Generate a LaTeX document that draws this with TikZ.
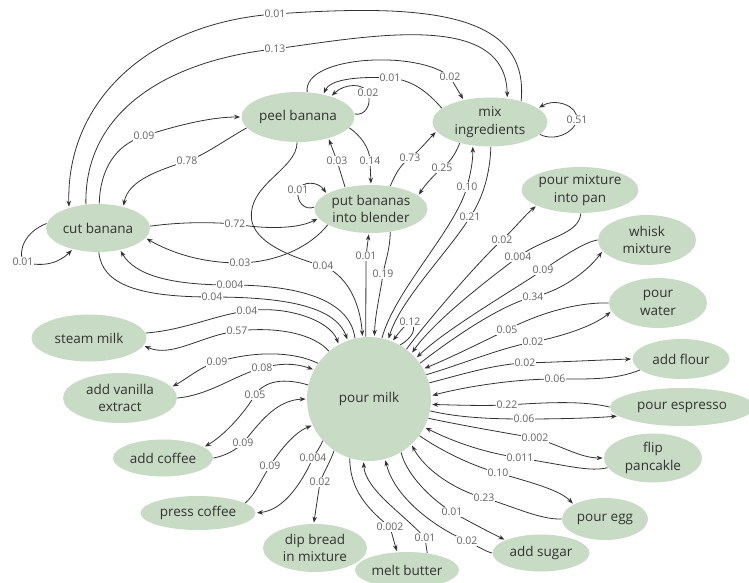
\documentclass[tikz,border=0pt]{standalone}
\usepackage{fontspec}
\setmainfont{Open Sans}
\usetikzlibrary{shapes.geometric,arrows.meta}
\definecolor{sage}{RGB}{200,219,196}
\definecolor{inkgrey}{RGB}{50,50,50}
\definecolor{labelgrey}{RGB}{100,100,100}

\begin{document}
\begin{tikzpicture}[->,>={Stealth[length=6pt,width=4.5pt]},shorten >=1pt,x=1pt,y=1pt,thick,color=inkgrey,
    task node/.style={ellipse,fill=sage,text=inkgrey,inner sep=0pt,align=center,font=\fontsize{13.5}{17.5}\selectfont},
    weight label/.style={fill=white,inner sep=1pt,text=labelgrey,font=\fontsize{10.5}{12}\selectfont}]

                        \useasboundingbox (0,0) rectangle (749,-583);

                        \node[task node, minimum width=104pt, minimum height=48pt] (1) at (98,-228) {cut banana};
                        \node[task node, minimum width=113pt, minimum height=50pt] (2) at (298,-117) {peel banana};
                        \node[task node, minimum width=115pt, minimum height=49pt] (3) at (490,-122) {mix\\ingredients};
                        \node[task node, minimum width=113pt, minimum height=48pt] (4) at (371,-209) {put bananas\\into blender};
                        \node[task node, circle, minimum size=124pt] (5) at (369,-399) {pour milk};
                        \node[task node, minimum width=117pt, minimum height=46pt] (6) at (580,-190) {pour mixture\\into pan};
                        \node[task node, minimum width=98pt, minimum height=50pt] (7) at (647,-240) {whisk\\mixture};
                        \node[task node, minimum width=98pt, minimum height=50pt] (8) at (658,-303) {pour\\water};
                        \node[task node, minimum width=97pt, minimum height=40pt] (9) at (681,-359) {add flour};
                        \node[task node, minimum width=144pt, minimum height=38pt] (10) at (682,-407) {pour espresso};
                        \node[task node, minimum width=98pt, minimum height=49pt] (11) at (653,-458) {flip\\pancakle};
                        \node[task node, minimum width=86pt, minimum height=42pt] (12) at (605,-519) {pour egg};
                        \node[task node, minimum width=97pt, minimum height=37pt] (13) at (541,-553) {add sugar};
                        \node[task node, minimum width=104pt, minimum height=36pt] (14) at (407,-570) {melt butter};
                        \node[task node, minimum width=104pt, minimum height=48pt] (15) at (315,-548) {dip bread\\in mixture};
                        \node[task node, minimum width=115pt, minimum height=34pt] (16) at (198,-513) {press coffee};
                        \node[task node, minimum width=100pt, minimum height=37pt] (17) at (163,-458) {add coffee};
                        \node[task node, minimum width=114pt, minimum height=50pt] (18) at (120,-398) {add vanilla\\extract};
                        \node[task node, minimum width=115pt, minimum height=47pt] (19) at (89,-338) {steam milk};

                        \draw (3.34) .. controls (530,-10) and (420,-4) .. (275,-14) node[weight label]{0.01} .. controls (150,-23) and (66,-100) .. (1.145);
                        \draw (1.117) .. controls (84,-110) and (170,-60) .. (275,-49) node[weight label]{0.13} .. controls (370,-36) and (506,-10) .. (3.54);
                        \draw (1.87) .. controls (100,-170) and (115,-145) .. (144,-136) node[weight label]{0.09} .. controls (175,-126) and (210,-117) .. (2.180);
                        \draw (2.192) .. controls (225,-140) and (205,-155) .. (187,-161) node[weight label]{0.78} .. controls (160,-170) and (128,-180) .. (1.40);
                        \draw (3.164) .. controls (430,-95) and (415,-80) .. (390,-78) node[weight label]{0.01} .. controls (355,-76) and (330,-80) .. (2.42);
                        \draw (2.70) .. controls (303,-55) and (420,-50) .. (450,-77) node[weight label]{0.02} -- (3.140);
                        \draw (2.3) .. controls (365,-116) and (372,-105) .. (368,-93) node[weight label]{0.02} .. controls (364,-83) and (345,-83) .. (2.32);
                        \draw (3.-14) .. controls (555,-142) and (575,-132) .. (577,-120) node[weight label]{0.51} .. controls (578,-105) and (555,-98) .. (3.16);
                        \draw (4.140) -- (337,-161) node[weight label]{0.03} -- (2.-35);
                        \draw (2.-12) .. controls (360,-135) and (370,-148) .. (370,-161) node[weight label]{0.14} -- (4.90);
                        \draw (4.50) .. controls (395,-175) and (400,-165) .. (410,-158) node[weight label]{0.73} .. controls (420,-150) and (428,-140) .. (3.190);
                        \draw (3.215) .. controls (455,-155) and (450,-162) .. (442,-168) node[weight label]{0.25} .. controls (432,-177) and (425,-185) .. (4.16);
                        \draw (5.78) .. controls (395,-290) and (455,-230) .. (467,-187) node[weight label]{0.10} .. controls (471,-172) and (473,-160) .. (3.234);
                        \draw (3.-88) .. controls (490,-175) and (482,-200) .. (470,-217) node[weight label]{0.21} .. controls (450,-250) and (400,-300) .. (5.72);
                        \draw (4.178) .. controls (305,-211) and (296,-202) .. (298,-190) node[weight label]{0.01} .. controls (302,-181) and (318,-181) .. (4.161);
                        \draw (1.2) .. controls (180,-222) and (210,-222) .. (235,-224) node[weight label]{0.72} .. controls (270,-230) and (300,-228) .. (4.190);
                        \draw (4.200) .. controls (312,-245) and (280,-262) .. (240,-263) node[weight label]{0.03} .. controls (200,-263) and (170,-252) .. (1.-12);
                        \draw (2.-92) .. controls (297,-170) and (245,-185) .. (252,-222) .. controls (258,-245) and (295,-258) .. (323,-266) node[weight label]{0.04} .. controls (345,-274) and (360,-300) .. (5.96);
                        \draw (5.93) -- (366,-256) node[weight label]{0.01} -- (4.-95);
                        \draw (4.-50) .. controls (390,-250) and (385,-262) .. (383,-274) node[weight label]{0.19} .. controls (380,-295) and (375,-315) .. (5.85);
                        \draw (5.60) .. controls (412,-338) and (418,-328) .. (410,-322) node[weight label]{0.12} .. controls (402,-328) and (398,-334) .. (5.68);
                        \draw (1.175) .. controls (25,-232) and (18,-250) .. (23,-262) node[weight label]{0.01} .. controls (45,-268) and (60,-262) .. (1.220);

                        \draw (5.53) .. controls (420,-330) and (475,-265) .. (502,-240) node[weight label]{0.02} .. controls (515,-228) and (525,-215) .. (6.200);
                        \draw (6.-88) .. controls (579,-235) and (545,-237) .. (518,-257) node[weight label]{0.004} .. controls (490,-278) and (435,-320) .. (5.47);
                        \draw (7.180) .. controls (585,-242) and (565,-255) .. (543,-270) node[weight label]{0.09} .. controls (510,-292) and (445,-330) .. (5.41);
                        \draw (5.35) .. controls (450,-340) and (500,-305) .. (533,-297) node[weight label]{0.34} .. controls (565,-290) and (590,-268) .. (7.194);
                        \draw (8.180) .. controls (575,-302) and (535,-315) .. (507,-330) node[weight label]{0.05} .. controls (480,-343) and (450,-358) .. (5.29);
                        \draw (5.23) .. controls (460,-365) and (500,-348) .. (533,-342) node[weight label]{0.02} .. controls (565,-336) and (595,-325) .. (8.190);
                        \draw (5.15) .. controls (460,-375) and (495,-364) .. (525,-363) node[weight label]{0.02} .. controls (560,-362) and (600,-360) .. (9.180);
                        \draw (9.195) .. controls (615,-380) and (590,-379) .. (555,-379) node[weight label]{0.06} .. controls (510,-379) and (460,-388) .. (5.3);
                        \draw (10.180) .. controls (580,-400) and (540,-403) .. (507,-405) node[weight label]{0.22} .. controls (480,-406) and (455,-405) .. (5.-5);
                        \draw (5.-11) .. controls (460,-418) and (495,-419) .. (524,-419) node[weight label]{0.06} .. controls (560,-419) and (595,-418) .. (10.188);
                        \draw (5.-18) .. controls (460,-425) and (500,-432) .. (535,-438) node[weight label]{0.002} .. controls (560,-445) and (580,-458) .. (11.180);
                        \draw (11.192) .. controls (590,-472) and (570,-466) .. (520,-458) node[weight label]{0.011} .. controls (480,-452) and (450,-440) .. (5.-27);
                        \draw (5.-36) .. controls (440,-450) and (470,-465) .. (498,-473) node[weight label]{0.10} .. controls (530,-482) and (560,-490) .. (12.155);
                        \draw (12.180) .. controls (540,-520) and (510,-505) .. (484,-498) node[weight label]{0.23} .. controls (455,-490) and (425,-470) .. (5.-47);
                        \draw (5.-59) .. controls (405,-470) and (425,-495) .. (452,-512) node[weight label]{0.01} .. controls (470,-522) and (485,-530) .. (13.160);
                        \draw (13.180) .. controls (484,-551) and (476,-545) .. (467,-541) node[weight label]{0.02} .. controls (440,-530) and (395,-500) .. (5.-75);
                        \draw (14.40) -- (425,-538) node[weight label]{0.01} .. controls (405,-515) and (365,-490) .. (5.-95);
                        \draw (5.-108) .. controls (350,-485) and (362,-505) .. (390,-527) node[weight label]{0.002} -- (14.119);

                        \draw (5.-124) .. controls (330,-462) and (324,-472) .. (320,-482) node[weight label]{0.02} -- (15.93);
                        \draw (5.-138) .. controls (320,-448) and (316,-452) .. (313,-458) node[weight label]{0.004} .. controls (303,-480) and (285,-510) .. (16.0);
                        \draw (16.12) .. controls (255,-495) and (262,-478) .. (270,-466) node[weight label]{0.09} .. controls (280,-450) and (295,-432) .. (5.-155);
                        \draw (5.167) .. controls (285,-378) and (265,-380) .. (255,-395) node[weight label]{0.05} .. controls (245,-412) and (225,-435) .. (17.15);
                        \draw (17.0) .. controls (225,-456) and (236,-450) .. (243,-443) node[weight label]{0.09} .. controls (258,-425) and (275,-400) .. (5.180);
                        \draw (5.145) .. controls (290,-350) and (250,-352) .. (217,-362) node[weight label]{0.09} .. controls (200,-367) and (188,-378) .. (18.12);
                        \draw (18.0) .. controls (210,-395) and (235,-375) .. (262,-368) node[weight label]{0.08} .. controls (280,-363) and (295,-363) .. (5.152);
                        \draw (5.130) .. controls (315,-335) and (280,-326) .. (237,-331) node[weight label]{0.57} .. controls (200,-336) and (172,-358) .. (19.-8);
                        \draw (19.5) .. controls (185,-330) and (215,-315) .. (247,-311) node[weight label]{0.04} .. controls (285,-305) and (330,-320) .. (5.119);
                        \draw (1.-88) .. controls (102,-285) and (140,-297) .. (212,-297) node[weight label]{0.04} .. controls (280,-297) and (335,-305) .. (5.110);
                        \draw (5.103) .. controls (350,-300) and (300,-285) .. (230,-285) node[weight label]{0.004} .. controls (170,-285) and (135,-275) .. (1.-45);

                        ;
                    \end{tikzpicture}
\end{document}
